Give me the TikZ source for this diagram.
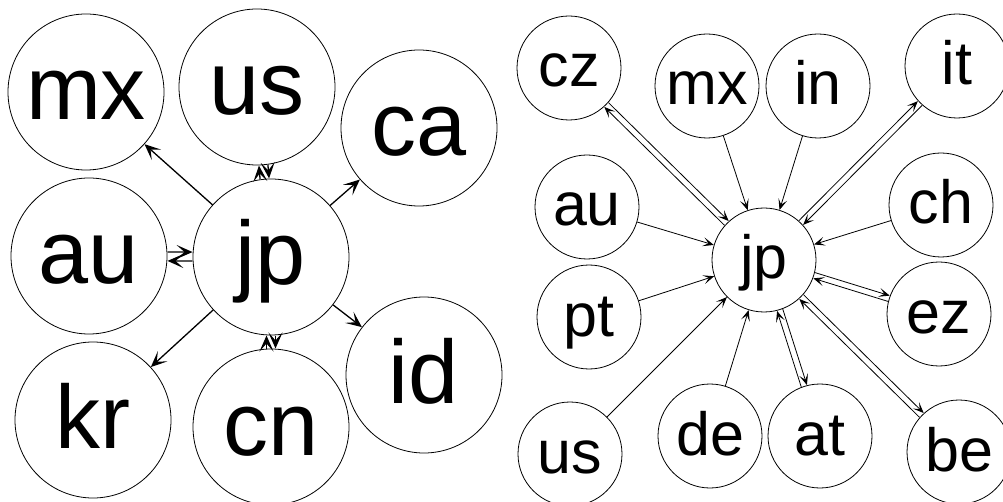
\documentclass[tikz,border=0pt]{standalone}
\usepackage{fontspec}
\setmainfont{Liberation Sans}
\usetikzlibrary{arrows.meta,calc}
\newcommand\twoway[6]{%
  \draw[#6] ($(#1.center)!#3!90:(#2.center)$) -- ($(#2.center)!#3!-90:(#1.center)$);%
}
\begin{document}
\begin{tikzpicture}[x=1pt,y=-1pt,
  bignode/.style={draw,circle,line width=0.8pt,minimum size=156pt,inner sep=0pt,
     font=\fontsize{90}{90}\selectfont,text height=56pt,text depth=0pt},
  smallnode/.style={draw,circle,line width=0.8pt,minimum size=104pt,inner sep=0pt,
     font=\fontsize{61}{61}\selectfont,text height=38pt,text depth=0pt},
  bigarrow/.style={line width=1.3pt,-{Stealth[length=16pt,width=14pt,inset=8pt]}},
  smallarrow/.style={line width=0.8pt,-{Stealth[length=11pt,width=9pt,inset=5.5pt]}},
  bigtwo/.style={bigarrow,shorten <=78.5pt,shorten >=78.5pt},
  smalltwo/.style={smallarrow,shorten <=52.5pt,shorten >=52.5pt}]
\useasboundingbox (0,0) rectangle (1003,502);
% left graph
\node[bignode] (Ljp) at (271,257) {jp};
\node[bignode] (Lmx) at (86,92) {mx};
\node[bignode] (Lus) at (257,87) {us};
\node[bignode] (Lca) at (419,128) {ca};
\node[bignode] (Lau) at (89,256) {au};
\node[bignode] (Lkr) at (93,420) {kr};
\node[bignode] (Lcn) at (271,427) {cn};
\node[bignode] (Lid) at (424,375) {id};
\draw[bigarrow] (Ljp) -- (Lmx);
\draw[bigarrow] (Ljp) -- (Lca);
\draw[bigarrow] (Ljp) -- (Lkr);
\draw[bigarrow] (Ljp) -- (Lid);
\twoway{Ljp}{Lus}{4.5pt}{}{}{bigtwo}
\twoway{Lus}{Ljp}{4.5pt}{}{}{bigtwo}
\twoway{Ljp}{Lau}{4.5pt}{}{}{bigtwo}
\twoway{Lau}{Ljp}{4.5pt}{}{}{bigtwo}
\twoway{Ljp}{Lcn}{4.5pt}{}{}{bigtwo}
\twoway{Lcn}{Ljp}{4.5pt}{}{}{bigtwo}
% right graph
\node[smallnode] (Rjp) at (764,260) {jp};
\node[smallnode] (Rcz) at (569,68) {cz};
\node[smallnode] (Rmx) at (707,86) {mx};
\node[smallnode] (Rin) at (818,86) {in};
\node[smallnode] (Rit) at (957,66) {it};
\node[smallnode] (Rau) at (587,207) {au};
\node[smallnode] (Rch) at (941,205) {ch};
\node[smallnode] (Rpt) at (589,317) {pt};
\node[smallnode] (Rez) at (939,314) {ez};
\node[smallnode] (Rus) at (570,454) {us};
\node[smallnode] (Rde) at (710,436) {de};
\node[smallnode] (Rat) at (820,436) {at};
\node[smallnode] (Rbe) at (959,452) {be};
\foreach \n in {Rmx,Rin,Rau,Rch,Rpt,Rus,Rde}
  \draw[smallarrow] (\n) -- (Rjp);
\foreach \n in {Rcz,Rit,Rez,Rat,Rbe}{
  \twoway{Rjp}{\n}{3pt}{}{}{smalltwo}
  \twoway{\n}{Rjp}{3pt}{}{}{smalltwo}
}
\end{tikzpicture}
\end{document}
